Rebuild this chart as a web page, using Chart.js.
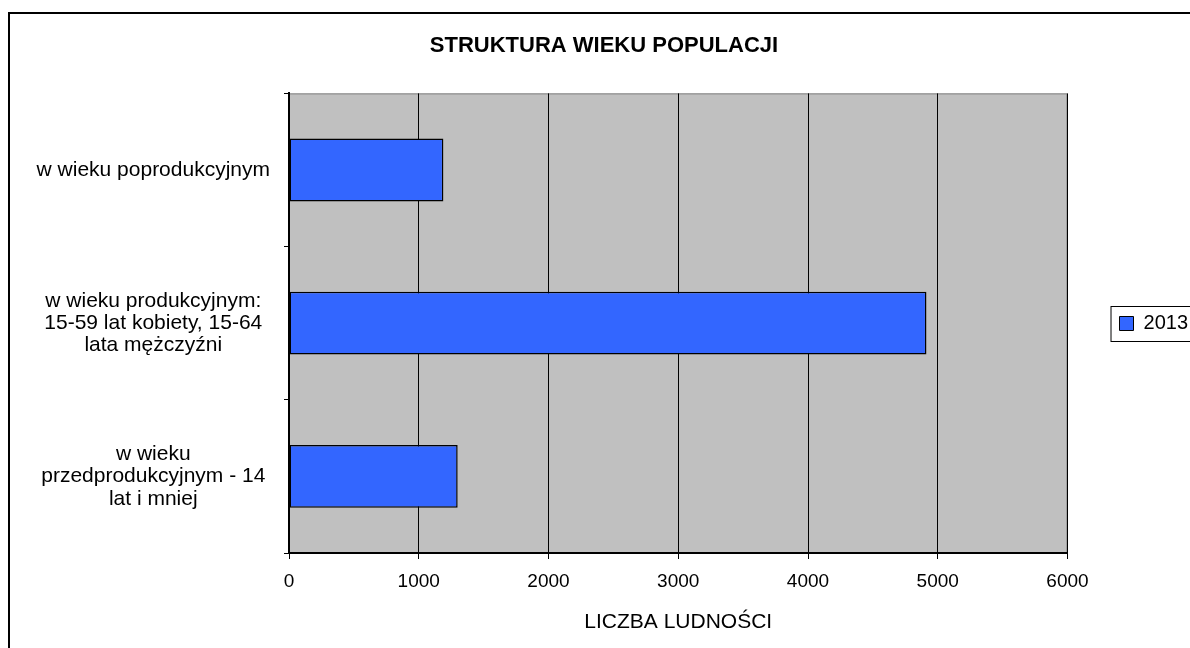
<!DOCTYPE html>
<html>
<head>
<meta charset="utf-8">
<script src="https://cdn.jsdelivr.net/npm/chart.js@4/dist/chart.umd.min.js"></script>
<style>
  html, body { margin: 0; padding: 0; background: #fff; overflow: hidden; }
  #wrap { position: relative; width: 1190px; height: 648px; }
  #frame { position: absolute; left: 8px; top: 12px; width: 2000px; height: 2000px;
           border: 2px solid #000; pointer-events: none; }
</style>
</head>
<body>
<div id="wrap">
  <canvas id="chart" width="1190" height="648"></canvas>
  <div id="frame"></div>
</div>
<script>
const categories = [
  ["w wieku poprodukcyjnym"],
  ["w wieku produkcyjnym:", "15-59 lat kobiety, 15-64", "lata mężczyźni"],
  ["w wieku", "przedprodukcyjnym - 14", "lat i mniej"]
];
const values2013 = [1190, 4913, 1300];
const seriesName = "2013";
const xTicks = [0, 1000, 2000, 3000, 4000, 5000, 6000];

const FONT = "'Liberation Sans', Arial, sans-serif";

// grey plot background with thin grey top/right edge
const plotBg = {
  id: "plotBg",
  beforeDraw(chart) {
    const { ctx, chartArea: a } = chart;
    ctx.save();
    ctx.fillStyle = "#c0c0c0";
    ctx.fillRect(a.left, a.top, a.right - a.left, a.bottom - a.top);
    ctx.strokeStyle = "#808080";
    ctx.lineWidth = 1;
    ctx.beginPath();
    ctx.moveTo(a.left, a.top + 0.5);
    ctx.lineTo(a.right - 0.5, a.top + 0.5);
    ctx.lineTo(a.right - 0.5, a.bottom);
    ctx.stroke();
    ctx.restore();
  }
};

// box round the legend item (runs off the right edge like the original)
const legendBox = {
  id: "legendBox",
  afterDraw(chart) {
    const hb = chart.legend.legendHitBoxes[0];
    if (!hb) return;
    const ctx = chart.ctx;
    ctx.save();
    ctx.strokeStyle = "#000";
    ctx.lineWidth = 1;
    const cy = hb.top + hb.height / 2;
    ctx.strokeRect(hb.left - 8.5, Math.round(cy - 18) + 0.5, 200, 35);
    ctx.restore();
  }
};

new Chart(document.getElementById("chart"), {
  type: "bar",
  data: {
    labels: categories,
    datasets: [{
      label: seriesName,
      data: values2013,
      backgroundColor: "#3366ff",
      borderColor: "#000",
      borderWidth: 1.5,
      borderSkipped: false,
      categoryPercentage: 1,
      barPercentage: 0.41
    }]
  },
  options: {
    indexAxis: "y",
    responsive: false,
    animation: false,
    layout: { padding: { left: 10, right: -8, top: 12, bottom: 13 } },
    plugins: {
      title: {
        display: true,
        text: "STRUKTURA WIEKU POPULACJI",
        color: "#000",
        font: { family: FONT, size: 22, weight: "bold" },
        padding: { top: 21, bottom: 34 }
      },
      legend: {
        position: "right",
        labels: {
          color: "#000",
          font: { family: FONT, size: 20 },
          boxWidth: 14,
          boxHeight: 14,
          padding: 10,
          generateLabels(chart) {
            return [{
              text: seriesName,
              fillStyle: "#3366ff",
              strokeStyle: "#000",
              lineWidth: 1,
              datasetIndex: 0
            }];
          }
        }
      },
      tooltip: { enabled: false }
    },
    scales: {
      x: {
        min: 0,
        max: 6000,
        afterBuildTicks(scale) { scale.ticks = xTicks.map(v => ({ value: v })); },
        grid: { color: "#000", lineWidth: 1, tickLength: 6, tickColor: "#000" },
        border: { color: "#000", width: 2 },
        ticks: {
          color: "#000",
          font: { family: FONT, size: 19 },
          padding: 11,
          maxRotation: 0,
          callback: v => String(v)
        },
        title: {
          display: true,
          text: "LICZBA LUDNOŚCI",
          color: "#000",
          font: { family: FONT, size: 21 },
          padding: { top: 6, bottom: 0 }
        }
      },
      y: {
        afterFit(scale) { scale.width = 279; },
        grid: { drawOnChartArea: false, offset: true, tickLength: 5, tickColor: "#000" },
        border: { color: "#000", width: 2 },
        ticks: {
          color: "#000",
          font: { family: FONT, size: 21, lineHeight: 1.07 },
          crossAlign: "center",
          padding: 14
        }
      },
      gap: {
        type: "linear",
        axis: "y",
        position: "right",
        display: true,
        afterFit(scale) { scale.width = 42; },
        grid: { display: false },
        border: { display: false },
        ticks: { display: false }
      }
    }
  },
  plugins: [plotBg, legendBox]
});
</script>
</body>
</html>
